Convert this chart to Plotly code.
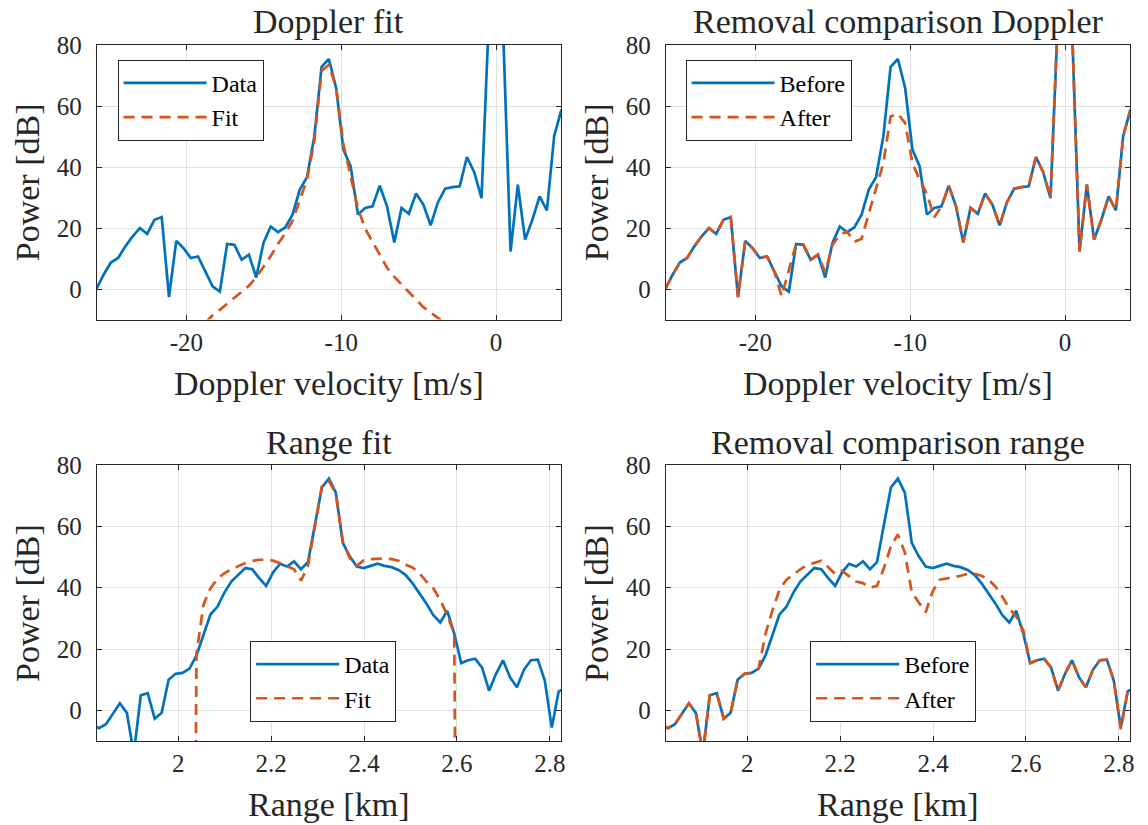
import plotly.graph_objects as go
from plotly.subplots import make_subplots

# ---------------------------------------------------------------------------
# Doppler spectrum (bins indexed relative to zero velocity)
# ---------------------------------------------------------------------------
DOPPLER_STEP = 0.4695          # m/s per bin
doppler_bins = list(range(-55, 10))
doppler_velocity = [k * DOPPLER_STEP for k in doppler_bins]

doppler_before = [
    0.0, 4.7, 8.7, 10.2, 14.0, 17.3, 20.0, 18.1, 22.7, 23.6,
    -2.6, 15.8, 13.4, 10.2, 10.7, 5.8, 0.9, -0.8, 14.8, 14.5,
    9.6, 11.3, 3.8, 15.1, 20.5, 18.7, 20.2, 24.4, 32.6, 36.7,
    50.1, 72.8, 75.4, 65.9, 45.7, 40.2, 24.4, 26.6, 27.1, 33.9,
    27.1, 15.3, 26.6, 24.7, 31.3, 27.7, 20.9, 28.4, 32.9, 33.4,
    33.7, 43.3, 38.3, 29.8, 88.0, 105.0, 83.0, 12.3, 34.2, 16.2,
    22.7, 30.4, 25.8, 50.1, 58.8,
]

doppler_after = [
    0.0, 4.7, 8.7, 10.2, 14.0, 17.3, 20.0, 18.1, 22.7, 23.6,
    -2.6, 15.8, 13.4, 10.2, 10.7, 5.8, -2.3, 6.0, 14.8, 14.5,
    9.6, 11.3, 5.5, 14.5, 17.8, 18.9, 15.5, 16.5, 25.0, 33.0,
    41.3, 56.6, 57.5, 54.4, 41.3, 35.8, 31.2, 23.5, 27.1, 33.9,
    27.1, 15.3, 26.6, 24.7, 31.3, 27.7, 20.9, 28.4, 32.9, 33.4,
    33.7, 43.3, 38.3, 29.8, 88.0, 105.0, 83.0, 12.3, 34.2, 16.2,
    22.7, 30.4, 25.8, 50.1, 58.8,
]

# fitted target spectrum, bins -40 .. -7 (outside: not evaluated)
doppler_fit = [None] * 15 + [
    -11.0, -8.6, -6.8, -4.8, -3.0, -1.1, 1.1, 3.8, 7.2, 10.8,
    14.8, 18.3, 22.3, 29.5, 36.0, 48.5, 71.5, 73.5, 66.0, 47.5,
    36.5, 26.5, 19.8, 15.5, 10.9, 7.0, 4.0, 1.5, -0.9, -3.6,
    -5.9, -7.7, -9.6, -11.2,
] + [None] * 16

# ---------------------------------------------------------------------------
# Range profile (bins indexed relative to the target range cell)
# ---------------------------------------------------------------------------
RANGE_STEP = 0.015             # km per bin
RANGE_CENTER = 2.3241          # km
range_bins = list(range(-34, 35))
range_km = [RANGE_CENTER + k * RANGE_STEP for k in range_bins]

range_before = [
    -4.4, -5.7, -4.4, -0.8, 2.4, -0.7, -14.0, 5.0, 5.7, -2.6,
    -0.7, 10.1, 12.0, 12.3, 13.7, 18.0, 24.5, 31.3, 33.8, 38.4,
    42.0, 44.2, 46.4, 46.0, 43.1, 40.6, 45.0, 47.8, 46.9, 48.6,
    46.0, 48.3, 61.0, 72.6, 75.5, 70.9, 54.6, 50.2, 46.9, 46.4,
    47.1, 47.8, 47.1, 46.7, 45.8, 44.2, 41.5, 38.2, 34.9, 31.1,
    28.7, 32.5, 25.1, 15.5, 16.4, 16.9, 14.0, 6.5, 12.0, 16.4,
    10.9, 7.6, 13.3, 16.4, 16.6, 9.8, -5.5, 6.3, 7.4,
]

range_after = [
    -4.4, -5.7, -4.4, -0.8, 2.4, -0.7, -14.0, 5.0, 5.7, -2.6,
    -0.7, 10.1, 12.0, 12.3, 13.7, 25.0, 32.7, 39.3, 42.6, 44.2,
    46.0, 47.4, 48.2, 48.8, 46.7, 44.5, 45.5, 43.6, 42.0, 41.5,
    40.0, 40.6, 46.4, 53.5, 57.3, 51.5, 38.5, 35.2, 32.0, 38.8,
    42.6, 43.0, 43.4, 43.9, 44.5, 44.5, 43.9, 42.7, 40.4, 37.1,
    33.3, 30.6, 26.2, 15.5, 16.4, 16.9, 14.0, 6.5, 12.0, 16.4,
    10.9, 7.6, 13.3, 16.4, 16.6, 9.8, -6.0, 6.3, 7.4,
]

# fitted range profile: supported on bins -19 .. 18, floor value at the edges
range_fit = [None] * 14 + [-300.0] + [
    18.5, 34.5, 39.8, 42.9, 44.7, 46.0, 47.1, 48.0, 48.7, 49.1,
    49.1, 48.8, 48.0, 47.1, 46.0, 42.3, 47.0, 60.0, 72.9, 74.7,
    70.7, 55.1, 49.6, 47.1, 48.9, 49.3, 49.5, 49.5, 49.3, 48.8,
    47.5, 46.6, 44.7, 42.0, 39.8, 36.0, 31.1, 25.1,
] + [-300.0] + [None] * 15

power_ticks = [0, 20, 40, 60, 80]
doppler_ticks = [-20, -10, 0]
doppler_ticktext = ["-20", "-10", "0"]
range_ticks = [2.0, 2.2, 2.4, 2.6, 2.8]
range_ticktext = ["2", "2.2", "2.4", "2.6", "2.8"]

# ---------------------------------------------------------------------------
W, H = 1148, 825
FONT = "Liberation Serif"
TXT = "#262626"
BLUE = "#0072BD"
ORANGE = "#D95319"
LW = 2.7
DASH = "11px,7px"


def fx(p):
    return p / W


def fy(p):
    return 1 - p / H


fig = make_subplots(rows=2, cols=2)

panels = [
    # (row, col, x, solid, dashed, solid name, dashed name, legend)
    (1, 1, doppler_velocity, doppler_before, doppler_fit, "Data", "Fit", "legend"),
    (1, 2, doppler_velocity, doppler_before, doppler_after, "Before", "After", "legend2"),
    (2, 1, range_km, range_before, range_fit, "Data", "Fit", "legend3"),
    (2, 2, range_km, range_before, range_after, "Before", "After", "legend4"),
]

for row, col, x, solid, dashed, n1, n2, leg in panels:
    fig.add_trace(go.Scatter(x=x, y=solid, mode="lines", name=n1, legend=leg,
                             line=dict(color=BLUE, width=LW)), row=row, col=col)
    fig.add_trace(go.Scatter(x=x, y=dashed, mode="lines", name=n2, legend=leg,
                             line=dict(color=ORANGE, width=LW, dash=DASH)),
                  row=row, col=col)

axis_style = dict(
    showline=True, linecolor=TXT, linewidth=1, mirror="ticks",
    ticks="inside", ticklen=5, tickwidth=1, tickcolor=TXT,
    showgrid=True, gridcolor="#e0e0e0", gridwidth=1, zeroline=False,
    tickfont=dict(family=FONT, size=25, color=TXT),
)
x_style = dict(ticklabelstandoff=0, **axis_style)
y_style = dict(ticklabelstandoff=9, **axis_style)

left_dom = [fx(97), fx(563)]
right_dom = [fx(668), fx(1134)]
top_dom = [fy(311.5), fy(32.5)]
bot_dom = [fy(740.1), fy(459)]

fig.update_layout(
    xaxis=dict(domain=left_dom, range=[-25.8, 4.2], tickvals=doppler_ticks,
               ticktext=doppler_ticktext, **x_style),
    xaxis2=dict(domain=right_dom, range=[-25.8, 4.2], tickvals=doppler_ticks,
                ticktext=doppler_ticktext, **x_style),
    xaxis3=dict(domain=left_dom, range=[1.8241, 2.8241], tickvals=range_ticks,
                ticktext=range_ticktext, **x_style),
    xaxis4=dict(domain=right_dom, range=[1.8241, 2.8241], tickvals=range_ticks,
                ticktext=range_ticktext, **x_style),
    yaxis=dict(domain=top_dom, range=[-10, 80], tickvals=power_ticks, **y_style),
    yaxis2=dict(domain=top_dom, range=[-10, 80], tickvals=power_ticks, **y_style),
    yaxis3=dict(domain=bot_dom, range=[-10, 80], tickvals=power_ticks, **y_style),
    yaxis4=dict(domain=bot_dom, range=[-10, 80], tickvals=power_ticks, **y_style),
)

legend_style = dict(xanchor="left", yanchor="top", bgcolor="white",
                    bordercolor=TXT, borderwidth=1, itemwidth=83,
                    tracegroupgap=0,
                    font=dict(family=FONT, size=24, color="black"))
fig.update_layout(
    legend=dict(x=fx(118), y=fy(47.5), **legend_style),
    legend2=dict(x=fx(688), y=fy(47.5), **legend_style),
    legend3=dict(x=fx(251), y=fy(638), **legend_style),
    legend4=dict(x=fx(813), y=fy(638), **legend_style),
)

label_font = dict(family=FONT, size=34, color=TXT)
texts = [
    ("Doppler fit", 330, 9, 0),
    ("Removal comparison Doppler", 901, 9, 0),
    ("Range fit", 330, 436.5, 0),
    ("Removal comparison range", 901, 436.5, 0),
    ("Doppler velocity [m/s]", 330, 376, 0),
    ("Doppler velocity [m/s]", 901, 376, 0),
    ("Range [km]", 330, 804, 0),
    ("Range [km]", 901, 804, 0),
    ("Power [dB]", 27, 172, -90),
    ("Power [dB]", 598, 172, -90),
    ("Power [dB]", 27, 599.5, -90),
    ("Power [dB]", 598, 599.5, -90),
]
for text, px, py, ang in texts:
    fig.add_annotation(text=text, x=fx(px), y=fy(py), xref="paper", yref="paper",
                       xanchor="center", yanchor="middle", showarrow=False,
                       textangle=ang, font=label_font)

fig.update_layout(width=W, height=H, margin=dict(l=0, r=0, t=0, b=0),
                  plot_bgcolor="white", paper_bgcolor="white")

fig.write_html("out.html")
